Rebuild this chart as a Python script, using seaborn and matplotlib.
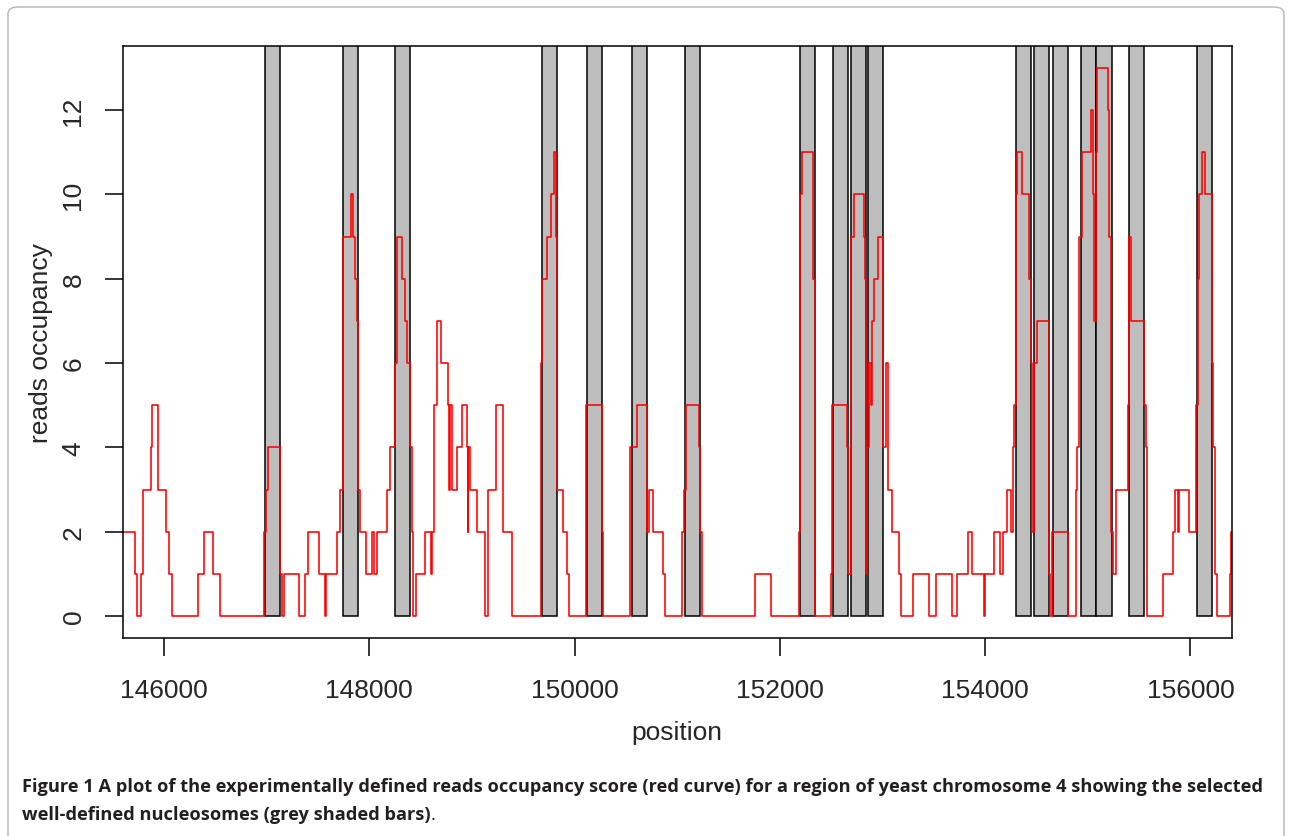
import pandas as pd
import matplotlib
matplotlib.use('Agg')
import matplotlib.pyplot as plt
import seaborn as sns
from matplotlib.patches import FancyBboxPatch

# well-defined nucleosomes (grey bars), start / end in bp
nuc_start = [146984, 147746, 148250, 149685, 150117, 150556, 151075, 152196, 152514,
             152690, 152862, 154300, 154476, 154660, 154930, 155084, 155405, 156067]
nuc_end = [147131, 147893, 148397, 149832, 150264, 150703, 151222, 152343, 152661,
           152837, 153009, 154447, 154623, 154807, 155077, 155231, 155552, 156214]

# reads occupancy score, step curve (value holds until the next position)
position = [145600, 145717, 145733, 145772, 145798, 145873, 145886, 145944, 146016, 146048,
            146074, 146328, 146389, 146480, 146545, 146974, 146990, 147016, 147130, 147152,
            147172, 147315, 147373, 147405, 147509, 147566, 147574, 147682, 147714, 147746,
            147818, 147844, 147860, 147883, 147893, 147909, 147967, 148022, 148045, 148071,
            148169, 148201, 148250, 148273, 148321, 148347, 148370, 148396, 148412, 148428,
            148451, 148542, 148605, 148614, 148633, 148656, 148695, 148769, 148779, 148790,
            148802, 148851, 148899, 148948, 148958, 148964, 148981, 149045, 149127, 149159,
            149234, 149305, 149387, 149669, 149685, 149734, 149767, 149799, 149822, 149832,
            149884, 149929, 149949, 150111, 150263, 150278, 150540, 150605, 150702, 150720,
            150765, 150857, 150885, 151049, 151066, 151082, 151212, 151222, 151238, 151757,
            151913, 152186, 152199, 152212, 152326, 152342, 152498, 152511, 152657, 152667,
            152690, 152725, 152815, 152829, 152839, 152852, 152871, 152885, 152901, 152917,
            152959, 153001, 153034, 153056, 153095, 153164, 153177, 153294, 153453, 153521,
            153674, 153729, 153836, 153868, 153989, 153998, 154086, 154144, 154170, 154209,
            154248, 154268, 154284, 154300, 154313, 154362, 154430, 154445, 154453, 154476,
            154502, 154622, 154632, 154654, 154810, 154882, 154898, 154915, 154940, 155031,
            155054, 155064, 155077, 155086, 155194, 155206, 155226, 155242, 155271, 155388,
            155401, 155420, 155551, 155564, 155573, 155736, 155833, 155849, 155875, 155892,
            155986, 156051, 156070, 156087, 156109, 156142, 156207, 156223, 156239, 156255,
            156385, 156395, 156420]
occupancy = [2, 1, 0, 1, 3, 4, 5, 3, 2, 1,
             0, 1, 2, 1, 0, 2, 3, 4, 1, 0,
             1, 0, 1, 2, 1, 0, 1, 2, 3, 9,
             10, 9, 8, 7, 3, 2, 1, 2, 1, 2,
             3, 4, 6, 9, 8, 7, 6, 4, 2, 0,
             1, 2, 1, 2, 5, 7, 6, 5, 3, 5,
             3, 4, 5, 4, 2, 4, 3, 2, 0, 3,
             5, 2, 0, 6, 8, 9, 10, 11, 9, 3,
             2, 1, 0, 5, 2, 0, 4, 5, 2, 3,
             2, 1, 0, 2, 3, 5, 4, 2, 0, 1,
             0, 2, 10, 11, 8, 0, 1, 5, 4, 1,
             9, 10, 9, 8, 1, 4, 6, 5, 7, 8,
             9, 4, 6, 3, 2, 1, 0, 1, 0, 1,
             0, 1, 2, 1, 0, 1, 2, 1, 2, 3,
             2, 4, 5, 10, 11, 10, 8, 6, 2, 6,
             7, 1, 0, 2, 0, 3, 4, 9, 11, 12,
             10, 7, 11, 13, 12, 9, 2, 1, 3, 5,
             9, 7, 5, 4, 0, 1, 2, 3, 2, 3,
             2, 5, 8, 10, 11, 10, 6, 4, 1, 0,
             1, 2, 2]

x_ticks = [146000, 148000, 150000, 152000, 154000, 156000]
y_ticks = [0, 2, 4, 6, 8, 10, 12]

caption_1 = ("Figure 1 A plot of the experimentally defined reads occupancy score (red curve) "
             "for a region of yeast chromosome 4 showing the selected")
caption_2 = "well-defined nucleosomes (grey shaded bars)"

sns.set_style('ticks')
plt.rcParams['font.family'] = ['Liberation Sans', 'DejaVu Sans']

W, H = 1291, 837
fig = plt.figure(figsize=(W / 100, H / 100), dpi=100)
ax = fig.add_axes([123 / W, 1 - 639 / H, (1231.5 - 123) / W, (639 - 47) / H])

occ = pd.DataFrame({'position': position, 'occupancy': occupancy})
nuc = pd.DataFrame({'start': nuc_start, 'end': nuc_end})

# grey bars run from 0 up past the top of the box
ax.bar(nuc['start'], 20, width=nuc['end'] - nuc['start'], bottom=0, align='edge',
       color='#bebebe', edgecolor='black', linewidth=1.1, zorder=1)
sns.lineplot(data=occ, x='position', y='occupancy', drawstyle='steps-post',
             estimator=None, color='red', linewidth=1.15, ax=ax, zorder=2)

ax.set_xlim(145600, 156400)
ax.set_ylim(-0.52, 13.52)
ax.set_xticks(x_ticks)
ax.set_yticks(y_ticks)
ax.set_xticklabels([str(t) for t in x_ticks])
ax.set_yticklabels([str(t) for t in y_ticks], rotation=90, va='center')
ax.tick_params(direction='out', length=13, width=1.1, labelsize=19, color='black')
ax.tick_params(axis='x', pad=16)
ax.tick_params(axis='y', pad=14)
for s in ax.spines.values():
    s.set_visible(True)
    s.set_linewidth(1.1)
    s.set_color('black')
ax.set_xlabel('position', fontsize=19, labelpad=13)
ax.set_ylabel('reads occupancy', fontsize=19, labelpad=6)

# caption below the plot, scaled to span the same width as the original
cap_font = ['Open Sans', 'DejaVu Sans']
t1 = fig.text(22 / W, 1 - 792 / H, caption_1, fontsize=13, fontweight='bold',
              family=cap_font, color='#231f20')
for _ in range(3):
    fig.canvas.draw()
    w = t1.get_window_extent().width
    t1.set_fontsize(t1.get_fontsize() * (1244 / w))
fs = t1.get_fontsize()
t2 = fig.text(22 / W, 1 - 820 / H, caption_2, fontsize=fs, fontweight='bold',
              family=cap_font, color='#231f20')
fig.canvas.draw()
bb = t2.get_window_extent()
fig.text(bb.x1 / W, 1 - 820 / H, '.', fontsize=fs, family=cap_font, color='#231f20')

# light rounded frame around the figure
frame = FancyBboxPatch((8 / W, -0.05), (1284 - 8) / W, 1.05 - 8 / H,
                       boxstyle='round,pad=0,rounding_size=0.008', transform=fig.transFigure,
                       facecolor='none', edgecolor='#b4b4b4', linewidth=1.0)
fig.patches.append(frame)

fig.savefig('out.png', dpi=100)
